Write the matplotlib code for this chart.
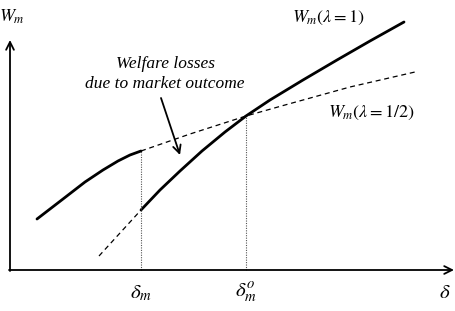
import matplotlib
matplotlib.use("Agg")
import matplotlib.pyplot as plt

plt.rcParams['mathtext.fontset'] = 'stix'
plt.rcParams['font.family'] = ['Liberation Serif', 'DejaVu Serif']

# picture coordinates (px, y grows downward)
# W_m(lambda=1/2): solid part left of delta_m, dashed beyond
half_solid_x = [37, 63, 85, 103, 118, 130, 141]
half_solid_y = [219, 199, 182, 170, 161, 155, 151]
half_dash_x = [141, 190, 246, 285, 350, 415]
half_dash_y = [151, 134, 116, 105, 87, 72]

# W_m(lambda=1): dashed part left of delta_m, solid beyond
one_dash_x = [99, 120, 141]
one_dash_y = [256, 233, 210]
one_solid_x = [141, 160, 180, 202, 225, 246, 270, 303, 337, 370, 404]
one_solid_y = [210, 190, 171, 151, 132, 116, 100, 80, 60, 41, 22]

delta_m = 141
delta_mo = 246
axis_x0 = 10
axis_y0 = 270

fig = plt.figure(figsize=(4.55, 3.11), dpi=100)
ax = fig.add_axes([0, 0, 1, 1])
ax.set_xlim(0, 455)
ax.set_ylim(311, 0)
ax.axis('off')

# axes with arrows
ax.annotate('', xy=(454, axis_y0), xytext=(axis_x0 - 1, axis_y0),
            arrowprops=dict(arrowstyle='->', lw=1.3, color='black',
                            mutation_scale=14, shrinkA=0, shrinkB=0))
ax.annotate('', xy=(axis_x0, 40), xytext=(axis_x0, axis_y0 + 1),
            arrowprops=dict(arrowstyle='->', lw=1.3, color='black',
                            mutation_scale=14, shrinkA=0, shrinkB=0))

# curves
ax.plot(half_solid_x, half_solid_y, color='black', lw=2.0,
        solid_capstyle='round', solid_joinstyle='round')
ax.plot(half_dash_x, half_dash_y, color='black', lw=0.9, dashes=(4, 3))
ax.plot(one_dash_x, one_dash_y, color='black', lw=0.9, dashes=(4, 3))
ax.plot(one_solid_x, one_solid_y, color='black', lw=2.0,
        solid_capstyle='round', solid_joinstyle='round')

# dotted verticals
ax.plot([delta_m, delta_m], [axis_y0, half_solid_y[-1]], color='#555555', lw=0.8, ls=(0, (1, 1.2)))
ax.plot([delta_mo, delta_mo], [axis_y0, 116], color='#555555', lw=0.8, ls=(0, (1, 1.2)))

# annotation
ax.text(166, 64, 'Welfare losses', ha='center', va='center', fontsize=12.5, style='italic')
ax.text(165, 84, 'due to market outcome', ha='center', va='center', fontsize=12.5, style='italic')
ax.annotate('', xy=(180, 155), xytext=(161, 98),
            arrowprops=dict(arrowstyle='->', lw=1.3, color='black',
                            mutation_scale=14, shrinkA=0, shrinkB=0))

# labels
ax.text(12, 17, r'$W_m$', ha='center', va='center', fontsize=13)
ax.text(328, 18, r'$W_m(\lambda=1)$', ha='center', va='center', fontsize=13)
ax.text(371, 113, r'$W_m(\lambda=1/2)$', ha='center', va='center', fontsize=13)
ax.text(delta_m, 293, r'$\delta_m$', ha='center', va='center', fontsize=15)
ax.text(delta_mo, 293, r'$\delta_m^o$', ha='center', va='center', fontsize=15)
ax.text(445, 293, r'$\delta$', ha='center', va='center', fontsize=15)

fig.savefig('out.png', dpi=100)
